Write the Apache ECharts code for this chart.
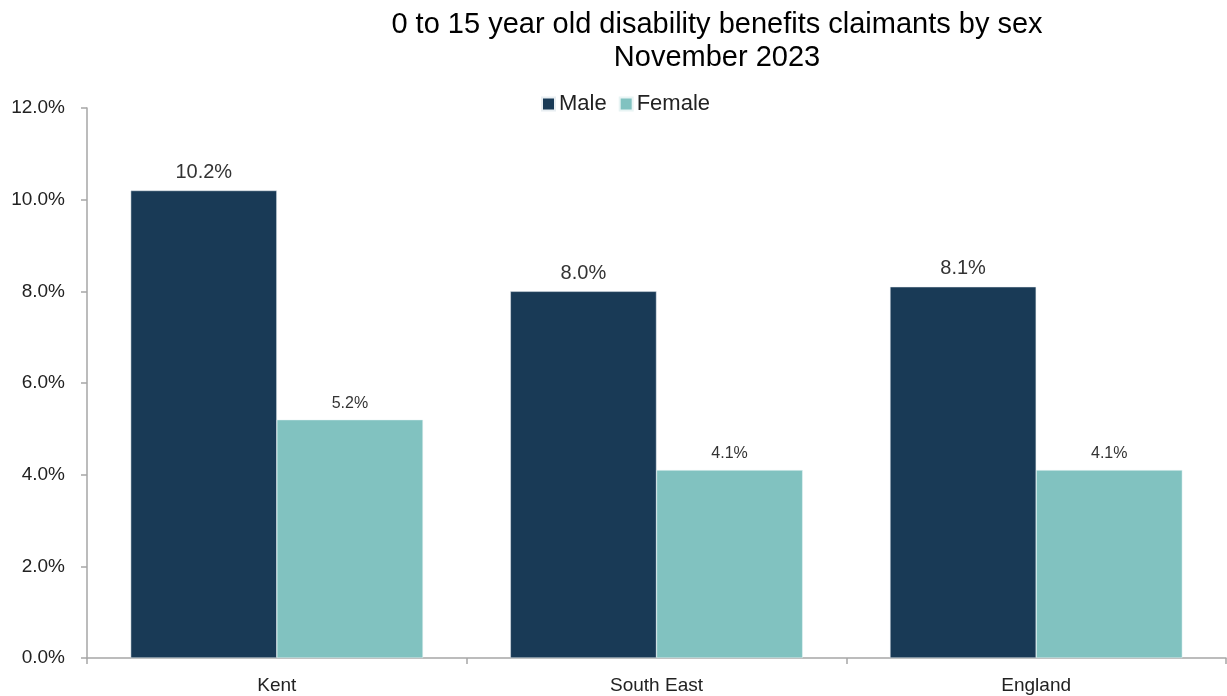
<!DOCTYPE html>
<html>
<head>
<meta charset="utf-8">
<script src="https://cdn.jsdelivr.net/npm/echarts@6/dist/echarts.min.js"></script>
<style>
  html, body { margin: 0; padding: 0; background: #fff; }
  #chart { width: 1227px; height: 696px; }
</style>
</head>
<body>
<div id="chart"></div>
<script>
// Claimant rates (% of 0-15 year olds), November 2023
const areas = ['Kent', 'South East', 'England'];
const male = [10.2, 8.0, 8.1];
const female = [5.2, 4.1, 4.1];
const seriesNames = ['Male', 'Female'];

const FONT = '"Liberation Sans", Arial, sans-serif';
const chart = echarts.init(document.getElementById('chart'), null, { renderer: 'canvas' });

chart.setOption({
  animation: false,
  backgroundColor: '#ffffff',
  title: {
    text: '0 to 15 year old disability benefits claimants by sex\nNovember 2023',
    left: 712,
    textAlign: 'center',
    top: 3,
    textStyle: {
      fontFamily: FONT,
      fontSize: 29,
      fontWeight: 'normal',
      color: '#000000',
      lineHeight: 33
    }
  },
  legend: {
    data: seriesNames,
    left: 536,
    top: 88,
    itemWidth: 13,
    itemHeight: 13,
    itemGap: 12,
    icon: 'rect',
    textStyle: { fontFamily: FONT, fontSize: 22, color: '#222222', padding: [0, 0, 0, -1] }
  },
  grid: { left: 87, right: 1, top: 108, bottom: 38, containLabel: false },
  xAxis: {
    type: 'category',
    data: areas,
    axisLine: { lineStyle: { color: '#a6a6a6', width: 1.5 } },
    axisTick: { show: true, length: 6, lineStyle: { color: '#a6a6a6', width: 1.5 } },
    axisLabel: { fontFamily: FONT, fontSize: 19, color: '#222222', margin: 18 }
  },
  yAxis: {
    type: 'value',
    min: 0,
    max: 12,
    interval: 2,
    axisLine: { show: true, lineStyle: { color: '#a6a6a6', width: 1.5 } },
    axisTick: { show: true, length: 6, lineStyle: { color: '#a6a6a6', width: 1.5 } },
    splitLine: { show: false },
    axisLabel: {
      fontFamily: FONT, fontSize: 19, color: '#222222', margin: 22,
      formatter: v => v.toFixed(1) + '%'
    }
  },
  series: [
    {
      name: seriesNames[0],
      type: 'bar',
      data: male,
      barGap: '0%',
      barCategoryGap: '23%',
      itemStyle: { color: '#193a56', borderColor: '#e8eef2', borderWidth: 0.5 },
      label: {
        show: true, position: 'top', distance: 8,
        fontFamily: FONT, fontSize: 20, color: '#333333',
        formatter: p => p.value.toFixed(1) + '%'
      }
    },
    {
      name: seriesNames[1],
      type: 'bar',
      data: female,
      itemStyle: { color: '#81c2c0', borderColor: '#e8f4f4', borderWidth: 0.5 },
      label: {
        show: true, position: 'top', distance: 8,
        fontFamily: FONT, fontSize: 16, color: '#333333',
        formatter: p => p.value.toFixed(1) + '%'
      }
    }
  ]
});
</script>
</body>
</html>
